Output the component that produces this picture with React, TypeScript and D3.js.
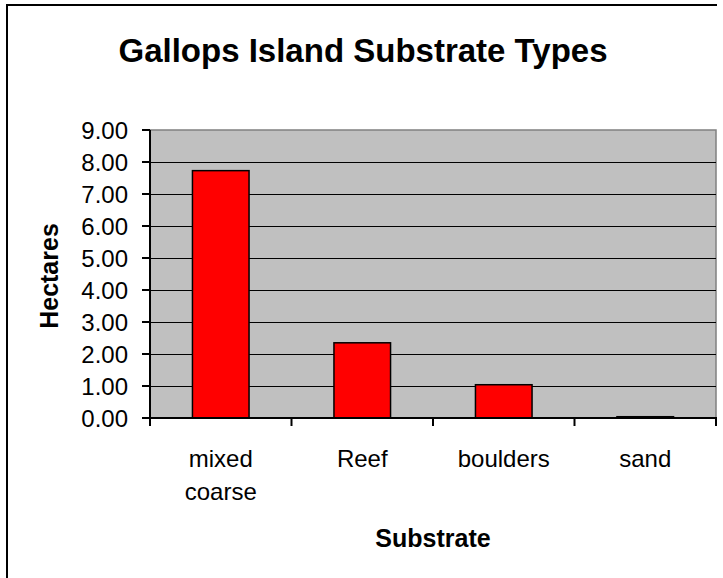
import React from "react";
import * as d3 from "d3";

const categories = ["mixed coarse", "Reef", "boulders", "sand"];
const hectares = [7.73, 2.35, 1.04, 0.04];
const yTicks = [0, 1, 2, 3, 4, 5, 6, 7, 8, 9];

const W = 723;
const H = 578;
const plot = { left: 150, right: 716, top: 130, bottom: 418 };
const FONT = "'Liberation Sans', Arial, Helvetica, sans-serif";

export default function App() {
  const x = d3
    .scaleBand<string>()
    .domain(categories)
    .range([plot.left, plot.right])
    .paddingInner(0.6)
    .paddingOuter(0.3);
  const xc = d3.scaleBand<string>().domain(categories).range([plot.left, plot.right]);
  const y = d3.scaleLinear().domain([0, 9]).range([plot.bottom, plot.top]);
  const crisp = (v: number) => Math.round(v) + 0.5;

  const boundaries = d3.range(categories.length + 1).map((i) => plot.left + i * xc.step());

  return (
    <svg
      width={W}
      height={H}
      style={{ position: "absolute", left: 0, top: 0, background: "#fff" }}
    >
      <rect x={0} y={0} width={W} height={H} fill="#fff" />
      {/* outer chart frame */}
      <path d={`M7,${H} L7,5 L717,5`} fill="none" stroke="#000" strokeWidth={2} />

      {/* title */}
      <text x={363} y={62} textAnchor="middle" fontFamily={FONT} fontWeight="bold" fontSize={33}>
        Gallops Island Substrate Types
      </text>

      {/* plot area */}
      <rect
        x={plot.left}
        y={plot.top}
        width={plot.right - plot.left}
        height={plot.bottom - plot.top}
        fill="#C0C0C0"
        stroke="#808080"
        strokeWidth={1.5}
      />
      {/* gridlines */}
      {yTicks.slice(1, -1).map((t) => (
        <line
          key={t}
          x1={plot.left}
          x2={plot.right}
          y1={crisp(y(t))}
          y2={crisp(y(t))}
          stroke="#000"
          strokeWidth={1}
        />
      ))}

      {/* bars */}
      {categories.map((c, i) => (
        <rect
          key={c}
          x={x(c)}
          y={y(hectares[i])}
          width={x.bandwidth()}
          height={y(0) - y(hectares[i])}
          fill="#FF0000"
          stroke="#000"
          strokeWidth={1.5}
        />
      ))}

      {/* axes */}
      <line x1={plot.left} x2={plot.left} y1={plot.top} y2={plot.bottom + 1} stroke="#000" strokeWidth={2} />
      <line x1={plot.left - 1} x2={plot.right + 1} y1={plot.bottom} y2={plot.bottom} stroke="#000" strokeWidth={2} />
      {yTicks.map((t) => (
        <g key={t}>
          <line x1={plot.left - 8} x2={plot.left} y1={y(t)} y2={y(t)} stroke="#000" strokeWidth={2} />
          <text
            x={128}
            y={y(t) + 8.5}
            textAnchor="end"
            fontFamily={FONT}
            fontSize={24}
          >
            {t.toFixed(2)}
          </text>
        </g>
      ))}
      {boundaries.map((b, i) => (
        <line key={i} x1={b} x2={b} y1={plot.bottom} y2={plot.bottom + 8} stroke="#000" strokeWidth={2} />
      ))}
      {categories.map((c) => {
        const cx = (xc(c) as number) + xc.bandwidth() / 2;
        const words = c.split(" ");
        return (
          <text key={c} x={cx} y={467} textAnchor="middle" fontFamily={FONT} fontSize={24}>
            {words.map((w, j) => (
              <tspan key={j} x={cx} dy={j === 0 ? 0 : 33}>
                {w}
              </tspan>
            ))}
          </text>
        );
      })}

      {/* axis titles */}
      <text
        x={(plot.left + plot.right) / 2}
        y={547}
        textAnchor="middle"
        fontFamily={FONT}
        fontWeight="bold"
        fontSize={25}
      >
        Substrate
      </text>
      <text
        transform={`translate(58,276) rotate(-90)`}
        textAnchor="middle"
        fontFamily={FONT}
        fontWeight="bold"
        fontSize={25}
      >
        Hectares
      </text>
    </svg>
  );
}
